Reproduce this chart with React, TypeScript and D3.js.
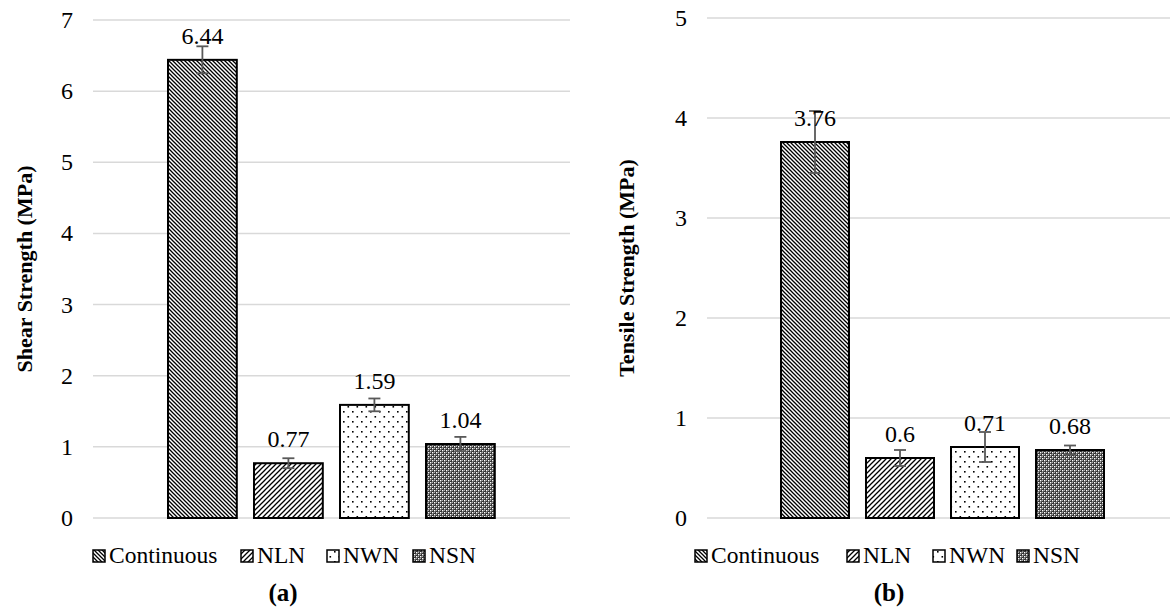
import React from "react";
import * as d3 from "d3";

const categories = ["Continuous", "NLN", "NWN", "NSN"];
const shearValues = [6.44, 0.77, 1.59, 1.04];
const shearErrors = [0.19, 0.07, 0.09, 0.1];
const tensileValues = [3.76, 0.6, 0.71, 0.68];
const tensileErrors = [0.31, 0.08, 0.15, 0.045];
const shearTicks = [0, 1, 2, 3, 4, 5, 6, 7];
const tensileTicks = [0, 1, 2, 3, 4, 5];

const FONT = "Liberation Serif";
const patternIds = ["pat-cont", "pat-nln", "pat-nwn", "pat-nsn"];

function Patterns() {
  return (
    <defs>
      {/* dark downward diagonal */}
      <pattern id="pat-cont" width="4" height="4" patternUnits="userSpaceOnUse">
        <rect width="4" height="4" fill="#fff" />
        <path d="M-1,-1 L5,5 M-1,3 L1,5 M3,-1 L5,1" stroke="#000" strokeWidth="1.3" />
      </pattern>
      {/* wide upward diagonal */}
      <pattern id="pat-nln" width="5" height="5" patternUnits="userSpaceOnUse">
        <rect width="5" height="5" fill="#fff" />
        <path d="M-1,6 L6,-1 M-1,1 L1,-1 M4,6 L6,4" stroke="#000" strokeWidth="1.3" />
      </pattern>
      {/* sparse dots */}
      <pattern id="pat-nwn" width="9" height="10" patternUnits="userSpaceOnUse">
        <rect width="9" height="10" fill="#fff" />
        <rect x="1" y="1" width="1.6" height="1.6" fill="#000" />
        <rect x="5.5" y="6" width="1.6" height="1.6" fill="#000" />
      </pattern>
      {/* small checker / dotted grid */}
      <pattern id="pat-nsn" width="4" height="4" patternUnits="userSpaceOnUse">
        <rect width="4" height="4" fill="#333" />
        <rect x="0" y="0" width="1.4" height="1.4" fill="#fff" />
        <rect x="2" y="2" width="1.4" height="1.4" fill="#fff" />
        <rect x="2" y="0" width="0.9" height="0.9" fill="#ccc" />
        <rect x="0" y="2" width="0.9" height="0.9" fill="#ccc" />
      </pattern>
    </defs>
  );
}

type PanelProps = {
  values: number[];
  errors: number[];
  ticks: number[];
  maxY: number;
  yTop: number;
  yBottom: number;
  gridX0: number;
  gridX1: number;
  bandX0: number;
  bandX1: number;
  tickLabelX: number;
  title: string;
  titleX: number;
  legendX: number[];
  tag: string;
  tagX: number;
};

function Panel(p: PanelProps) {
  const y = d3.scaleLinear().domain([0, p.maxY]).range([p.yBottom, p.yTop]);
  const x = d3
    .scaleBand<string>()
    .domain(categories)
    .range([p.bandX0, p.bandX1])
    .paddingInner(0.2)
    .paddingOuter(0.1);
  const bw = x.bandwidth();
  const titleY = (p.yTop + p.yBottom) / 2;

  return (
    <g>
      {p.ticks.map((t) => (
        <g key={t}>
          <line x1={p.gridX0} x2={p.gridX1} y1={y(t)} y2={y(t)} stroke="#d9d9d9" strokeWidth={1.5} />
          <text x={p.tickLabelX} y={y(t) + 8} textAnchor="end" fontSize={24} fontFamily={FONT} fill="#000">
            {t}
          </text>
        </g>
      ))}
      <text
        transform={`translate(${p.titleX},${titleY}) rotate(-90)`}
        textAnchor="middle"
        fontSize={22}
        fontWeight="bold"
        fontFamily={FONT}
        fill="#000"
      >
        {p.title}
      </text>
      {categories.map((c, i) => {
        const x0 = x(c) as number;
        const v = p.values[i];
        const e = p.errors[i];
        const cx = x0 + bw / 2;
        return (
          <g key={c}>
            <rect
              x={x0}
              y={y(v)}
              width={bw}
              height={y(0) - y(v)}
              fill={`url(#${patternIds[i]})`}
              stroke="#000"
              strokeWidth={2}
            />
            <g stroke="#595959" strokeWidth={1.8}>
              <line x1={cx} x2={cx} y1={y(v + e)} y2={y(v - e)} />
              <line x1={cx - 6} x2={cx + 6} y1={y(v + e)} y2={y(v + e)} />
              <line x1={cx - 6} x2={cx + 6} y1={y(v - e)} y2={y(v - e)} />
            </g>
            <text x={cx} y={y(v) - 16} textAnchor="middle" fontSize={24} fontFamily={FONT} fill="#000">
              {v}
            </text>
          </g>
        );
      })}
      {categories.map((c, i) => (
        <g key={"lg" + c}>
          <rect
            x={p.legendX[i]}
            y={550}
            width={12}
            height={12}
            fill={`url(#${patternIds[i]})`}
            stroke="#000"
            strokeWidth={1.5}
          />
          <text x={p.legendX[i] + 16} y={563} fontSize={23.5} fontFamily={FONT} fill="#000">
            {c}
          </text>
        </g>
      ))}
      <text x={p.tagX} y={601} textAnchor="middle" fontSize={25} fontWeight="bold" fontFamily={FONT} fill="#000">
        {p.tag}
      </text>
    </g>
  );
}

export default function App() {
  return (
    <svg
      width={1175}
      height={612}
      style={{ position: "absolute", left: 0, top: 0, display: "block", background: "#fff" }}
    >
      <Patterns />
      <Panel
        values={shearValues}
        errors={shearErrors}
        ticks={shearTicks}
        maxY={7}
        yTop={20}
        yBottom={518}
        gridX0={93}
        gridX1={570}
        bandX0={159.4}
        bandX1={503.4}
        tickLabelX={73}
        title="Shear Strength (MPa)"
        titleX={32}
        legendX={[93, 241, 327, 413]}
        tag="(a)"
        tagX={283}
      />
      <Panel
        values={tensileValues}
        errors={tensileErrors}
        ticks={tensileTicks}
        maxY={5}
        yTop={18}
        yBottom={518}
        gridX0={707}
        gridX1={1170}
        bandX0={772.5}
        bandX1={1112.5}
        tickLabelX={687}
        title="Tensile Strength (MPa)"
        titleX={634}
        legendX={[695, 847, 933, 1017]}
        tag="(b)"
        tagX={889}
      />
    </svg>
  );
}
